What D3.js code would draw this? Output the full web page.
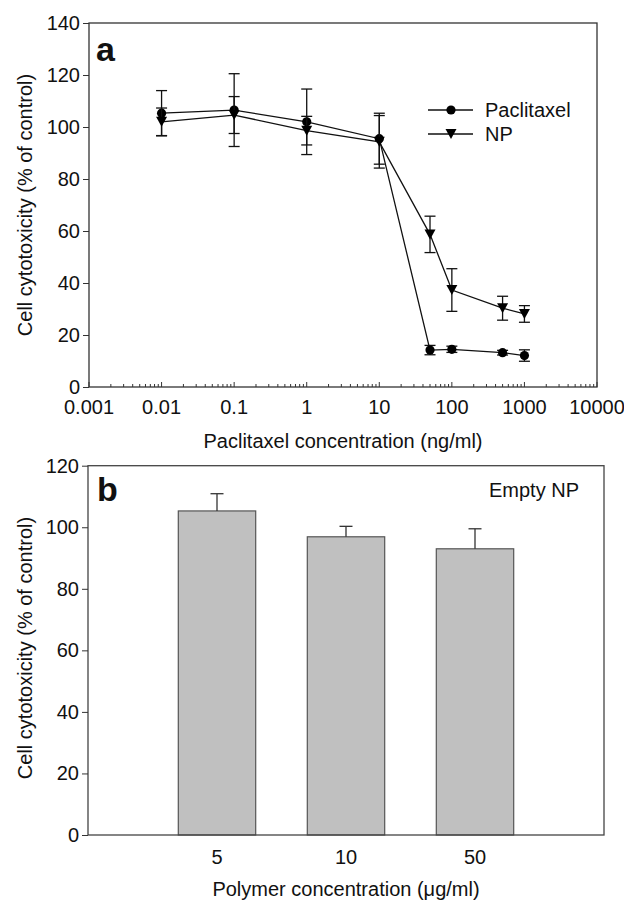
<!DOCTYPE html>
<html>
<head>
<meta charset="utf-8">
<script src="https://cdn.jsdelivr.net/npm/d3@7"></script>
<style>
  body { margin: 0; background: #fff; }
  svg { display: block; font-family: "Liberation Sans", Arial, sans-serif; }
</style>
</head>
<body>
<svg id="chart" width="624" height="900"></svg>
<script>
// panel a : paclitaxel concentration (ng/ml)
const concentrations = [0.01, 0.1, 1, 10, 50, 100, 500, 1000];
const paclitaxelMean = [105.3, 106.5, 102.0, 95.5, 14.2, 14.5, 13.2, 12.1];
const paclitaxelErr  = [8.7, 14.0, 12.6, 9.8, 1.8, 1.2, 0.9, 2.2];
const npMean = [102.0, 104.6, 98.6, 94.3, 58.7, 37.3, 30.3, 28.1];
const npErr  = [5.3, 7.1, 5.5, 10.1, 7.0, 8.2, 4.6, 3.2];
const xTicksA = [0.001, 0.01, 0.1, 1, 10, 100, 1000, 10000];
const yTicksA = [0, 20, 40, 60, 80, 100, 120, 140];

// panel b : empty NP
const polymerConc = ["5", "10", "50"];
const emptyMean = [105.3, 96.9, 93.0];
const emptyErr  = [5.6, 3.4, 6.5];
const yTicksB = [0, 20, 40, 60, 80, 100, 120];

const svg = d3.select("#chart");
const axisColor = "#333";
const fs = 20;

// ---------- panel a ----------
const xA = d3.scaleLog().domain([0.001, 10000]).range([89, 597]);
const yA = d3.scaleLinear().domain([0, 140]).range([387, 23]);

const gA = svg.append("g");

// frame
gA.append("rect")
  .attr("x", 89).attr("y", 23)
  .attr("width", 597 - 89).attr("height", 387 - 23)
  .attr("fill", "none").attr("stroke", axisColor).attr("stroke-width", 1.3);

// y axis ticks (outside)
const yAxA = gA.append("g")
  .attr("transform", "translate(89,0)")
  .call(d3.axisLeft(yA).tickValues(yTicksA).tickSize(6).tickPadding(3));
yAxA.select(".domain").remove();
yAxA.selectAll("line").attr("stroke", axisColor);
yAxA.selectAll("text").attr("font-size", fs).attr("fill", "#111").attr("font-family", null);

// x axis: ticks point inward, minor log ticks
const minor = [];
for (let e = -3; e < 4; e++) {
  for (let m = 2; m <= 9; m++) minor.push(m * Math.pow(10, e));
}
gA.append("g").selectAll("line.minor")
  .data(minor).join("line")
  .attr("x1", d => xA(d)).attr("x2", d => xA(d))
  .attr("y1", 387).attr("y2", 384)
  .attr("stroke", axisColor).attr("stroke-width", 1);
gA.append("g").selectAll("line.major")
  .data(xTicksA).join("line")
  .attr("x1", d => xA(d)).attr("x2", d => xA(d))
  .attr("y1", 387).attr("y2", 382)
  .attr("stroke", axisColor).attr("stroke-width", 1);
gA.append("g").selectAll("text")
  .data(xTicksA).join("text")
  .attr("x", d => xA(d)).attr("y", 414)
  .attr("text-anchor", "middle")
  .attr("font-size", fs).attr("fill", "#111")
  .text(d => String(d));

gA.append("text")
  .attr("x", 343).attr("y", 448)
  .attr("text-anchor", "middle").attr("font-size", fs).attr("fill", "#111")
  .text("Paclitaxel concentration (ng/ml)");

gA.append("text")
  .attr("transform", "translate(32,205) rotate(-90)")
  .attr("text-anchor", "middle").attr("font-size", fs).attr("fill", "#111")
  .text("Cell cytotoxicity (% of control)");

gA.append("text")
  .attr("x", 96).attr("y", 61)
  .attr("font-size", 34).attr("font-weight", "bold").attr("fill", "#111")
  .text("a");

const seriesA = [
  { name: "Paclitaxel", mean: paclitaxelMean, err: paclitaxelErr, sym: "circle" },
  { name: "NP", mean: npMean, err: npErr, sym: "tri" }
];

const line = d3.line().x(d => xA(d.c)).y(d => yA(d.v));

function drawMarker(g, s, x, y) {
  if (s.sym === "tri") {
    g.append("path")
      .attr("d", `M${x - 5.5},${y - 5} L${x + 5.5},${y - 5} L${x},${y + 5} Z`)
      .attr("fill", "#000");
  } else {
    g.append("circle").attr("cx", x).attr("cy", y).attr("r", 4.6).attr("fill", "#000");
  }
}

seriesA.forEach(s => {
  const pts = concentrations.map((c, i) => ({ c: c, v: s.mean[i], e: s.err[i] }));
  // error bars
  const eb = gA.append("g").attr("stroke", "#111").attr("stroke-width", 1.3);
  pts.forEach(p => {
    const x = xA(p.c);
    eb.append("line").attr("x1", x).attr("x2", x)
      .attr("y1", yA(p.v - p.e)).attr("y2", yA(p.v + p.e));
    [p.v - p.e, p.v + p.e].forEach(v => {
      eb.append("line").attr("x1", x - 5.5).attr("x2", x + 5.5)
        .attr("y1", yA(v)).attr("y2", yA(v));
    });
  });
  gA.append("path").datum(pts)
    .attr("d", line).attr("fill", "none")
    .attr("stroke", "#111").attr("stroke-width", 1.3);
  const mk = gA.append("g");
  pts.forEach(p => drawMarker(mk, s, xA(p.c), yA(p.v)));
});

// legend
const legend = gA.append("g");
seriesA.forEach((s, i) => {
  const y = 110 + i * 24;
  legend.append("line").attr("x1", 428).attr("x2", 473)
    .attr("y1", y).attr("y2", y).attr("stroke", "#111").attr("stroke-width", 1.3);
  drawMarker(legend, s, 451, y);
  legend.append("text").attr("x", 485).attr("y", y + 7)
    .attr("font-size", fs).attr("fill", "#111").text(s.name);
});

// ---------- panel b ----------
const xB = d3.scaleLinear().domain([0, 4]).range([88, 604]);
const yB = d3.scaleLinear().domain([0, 120]).range([835, 465.7]);
const gB = svg.append("g");
const barW = (xB(1) - xB(0)) * 0.6;

gB.selectAll("rect.bar")
  .data(polymerConc).join("rect")
  .attr("x", (d, i) => xB(i + 1) - barW / 2)
  .attr("y", (d, i) => yB(emptyMean[i]))
  .attr("width", barW)
  .attr("height", (d, i) => yB(0) - yB(emptyMean[i]))
  .attr("fill", "#c0c0c0").attr("stroke", "#555").attr("stroke-width", 1.2);

const ebB = gB.append("g").attr("stroke", "#333").attr("stroke-width", 1.3);
polymerConc.forEach((d, i) => {
  const x = xB(i + 1);
  const top = yB(emptyMean[i] + emptyErr[i]);
  ebB.append("line").attr("x1", x).attr("x2", x)
    .attr("y1", yB(emptyMean[i])).attr("y2", top);
  ebB.append("line").attr("x1", x - 6.5).attr("x2", x + 6.5)
    .attr("y1", top).attr("y2", top);
});

gB.append("rect")
  .attr("x", 88).attr("y", 465.7)
  .attr("width", 604 - 88).attr("height", 835 - 465.7)
  .attr("fill", "none").attr("stroke", "#444").attr("stroke-width", 1.3);

const yAxB = gB.append("g")
  .attr("transform", "translate(88,0)")
  .call(d3.axisLeft(yB).tickValues(yTicksB).tickSize(6).tickPadding(3));
yAxB.select(".domain").remove();
yAxB.selectAll("line").attr("stroke", axisColor);
yAxB.selectAll("text").attr("font-size", fs).attr("fill", "#111").attr("font-family", null);

gB.append("g").selectAll("text")
  .data(polymerConc).join("text")
  .attr("x", (d, i) => xB(i + 1)).attr("y", 864)
  .attr("text-anchor", "middle").attr("font-size", fs).attr("fill", "#111")
  .text(d => d);

gB.append("text")
  .attr("x", 346).attr("y", 896)
  .attr("text-anchor", "middle").attr("font-size", fs).attr("fill", "#111")
  .text("Polymer concentration (\u03bcg/ml)");

gB.append("text")
  .attr("transform", "translate(32,648) rotate(-90)")
  .attr("text-anchor", "middle").attr("font-size", fs).attr("fill", "#111")
  .text("Cell cytotoxicity (% of control)");

gB.append("text")
  .attr("x", 97).attr("y", 501)
  .attr("font-size", 34).attr("font-weight", "bold").attr("fill", "#111")
  .text("b");

gB.append("text")
  .attr("x", 489).attr("y", 497)
  .attr("font-size", fs).attr("fill", "#111")
  .text("Empty NP");
</script>
</body>
</html>
